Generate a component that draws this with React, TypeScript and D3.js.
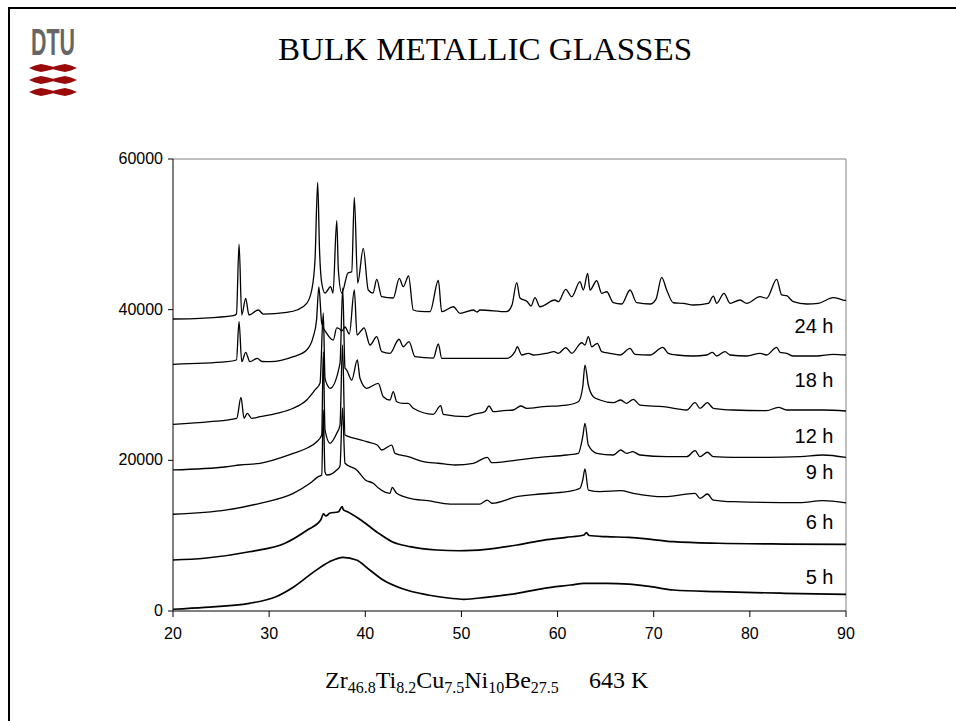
import React from "react";
import * as d3 from "d3";

// ---- Data (2θ in degrees, intensity in counts) ----
const curve1: [number, number][] = [
  [20.0, 38760], [22.8, 38850], [26.27, 39200], [26.6, 39420], [26.87, 48700], [27.15, 39290],
  [27.56, 41510], [27.9, 39290], [28.87, 39955], [29.39, 39420], [31.83, 39650], [32.87, 39955],
  [33.91, 40840], [34.43, 42610], [34.77, 46590], [35.05, 56900], [35.24, 47920], [35.47, 43540],
  [35.81, 42210], [36.4, 43050], [36.64, 42210], [37.03, 51810], [37.2, 45260], [37.55, 42210],
  [38.2, 44870], [38.59, 45040], [38.86, 54900], [39.21, 43540], [39.79, 48140], [40.31, 42610],
  [40.8, 42210], [41.19, 44030], [41.71, 41720], [42.91, 41550], [43.54, 44160], [43.95, 43050],
  [44.5, 44470], [44.99, 39955], [45.69, 39760], [46.73, 39730], [47.6, 43870], [47.95, 39730],
  [49.16, 40390], [49.85, 39520], [51.24, 39955], [51.62, 39690], [51.93, 39955], [54.71, 39730],
  [55.26, 40620], [55.75, 43580], [56.09, 41550], [56.85, 41060], [57.24, 40490], [57.65, 41590],
  [58.17, 40390], [59.73, 41280], [60.08, 41060], [60.85, 42700], [61.47, 41720], [62.33, 43710],
  [62.68, 42610], [63.13, 44830], [63.37, 42610], [64.07, 43840], [64.59, 42170], [65.11, 42380],
  [65.8, 40920], [66.67, 40750], [67.54, 42610], [68.23, 40920], [69.62, 40750], [70.24, 41410],
  [70.83, 44290], [71.35, 42610], [72.04, 40920], [73.08, 40840], [74.12, 40620], [75.68, 40840],
  [76.2, 41810], [76.55, 40840], [77.31, 42170], [77.94, 40840], [78.98, 41280], [79.67, 40840],
  [81.06, 41720], [81.75, 41510], [82.79, 44030], [83.31, 41950], [83.83, 41850], [84.52, 41060],
  [85.92, 40750], [87.12, 40840], [88.68, 41590], [89.72, 41280], [90.0, 41220],
];

const curve2: [number, number][] = [
  [20.0, 32750], [25.59, 33090], [26.6, 33320], [26.87, 38400], [27.15, 33090], [27.56, 34340],
  [28.0, 33090], [28.77, 33540], [29.26, 33120], [30.09, 33090], [32.51, 33760], [33.91, 34650],
  [34.59, 36410], [34.93, 38630], [35.17, 43010], [35.47, 38190], [35.99, 36860], [36.67, 35970],
  [37.03, 37570], [37.3, 37470], [37.55, 37170], [37.89, 37700], [38.34, 36770], [38.86, 42610],
  [39.14, 36640], [39.63, 37300], [39.87, 37570], [40.49, 35310], [41.19, 36410], [41.71, 34420],
  [42.57, 34210], [43.51, 36070], [43.95, 35080], [44.55, 35750], [45.17, 33760], [47.08, 33580],
  [47.6, 35440], [47.95, 33540], [51.24, 33540], [54.71, 33540], [55.57, 34420], [55.81, 35080],
  [56.27, 33980], [56.96, 34210], [57.48, 33980], [58.87, 34210], [59.63, 34420], [60.08, 34210],
  [60.85, 34950], [61.47, 34210], [62.51, 35610], [62.85, 35310], [63.2, 36410], [63.55, 35080],
  [64.13, 35530], [64.59, 34420], [65.45, 34210], [66.49, 33980], [67.54, 34870], [68.05, 34070],
  [69.62, 33980], [70.94, 35000], [71.52, 34210], [72.39, 33980], [74.12, 33850], [75.51, 33980],
  [76.1, 34340], [76.55, 33850], [77.42, 34420], [77.94, 33980], [79.67, 33850], [81.06, 34210],
  [81.75, 33980], [82.79, 35000], [83.14, 34340], [83.83, 34210], [84.52, 33850], [86.95, 33850],
  [88.68, 34070], [90.0, 33980],
];

const curve3: [number, number][] = [
  [20.0, 24780], [23.85, 25130], [26.63, 25580], [27.07, 28370], [27.39, 25580], [27.73, 26240],
  [28.19, 25580], [29.05, 25790], [30.79, 26240], [32.51, 26910], [33.91, 28010], [34.77, 29340],
  [35.29, 30220], [35.63, 39560], [35.81, 30930], [36.05, 30000], [36.33, 29560], [37.37, 32880],
  [37.65, 42880], [37.89, 32260], [38.07, 31990], [38.59, 30660], [39.17, 33320], [39.45, 30890],
  [40.15, 29560], [41.35, 30220], [41.87, 28450], [42.57, 28010], [42.91, 29110], [43.27, 27780],
  [43.95, 27570], [44.47, 27570], [44.99, 26910], [47.07, 26110], [47.84, 27250], [48.12, 26110],
  [50.55, 25790], [51.24, 26110], [52.45, 26460], [52.87, 27210], [53.32, 26460], [54.36, 26590],
  [55.4, 26680], [56.17, 27210], [56.79, 26910], [58.52, 27120], [60.95, 27340], [62.16, 27780],
  [62.62, 29770], [62.85, 32650], [63.2, 30000], [63.72, 28450], [64.41, 28010], [65.8, 27650],
  [66.57, 28010], [67.19, 27570], [67.88, 28100], [68.57, 27340], [71.0, 27120], [73.43, 26680],
  [74.3, 27650], [74.82, 26910], [75.58, 27650], [76.2, 26910], [78.28, 26680], [81.75, 26590],
  [82.96, 27040], [83.83, 26680], [87.64, 26680], [90.0, 26550],
];

const curve4: [number, number][] = [
  [20.0, 18720], [25.59, 19150], [26.97, 19380], [29.05, 19610], [32.51, 20930], [33.91, 21600],
  [34.95, 22470], [35.47, 23360], [35.63, 34380], [35.81, 24030], [36.33, 22260], [37.03, 23590],
  [37.37, 24690], [37.63, 35310], [37.89, 23360], [38.93, 22920], [40.15, 22470], [41.25, 22030],
  [41.71, 21370], [42.75, 22030], [43.09, 20930], [44.47, 20480], [46.03, 19820], [47.6, 19610],
  [49.33, 19380], [51.24, 19610], [52.69, 20400], [53.15, 19690], [55.75, 20040], [58.17, 20400],
  [60.95, 20710], [62.16, 20930], [62.62, 23140], [62.85, 24910], [63.2, 22030], [64.07, 20930],
  [65.8, 20710], [66.57, 21370], [67.19, 20930], [67.82, 21150], [68.57, 20710], [71.35, 20480],
  [73.43, 20480], [74.3, 21280], [74.82, 20480], [75.58, 21070], [76.2, 20480], [78.28, 20400],
  [81.75, 20400], [85.22, 20480], [87.58, 20710], [90.0, 20380],
];

const curve5: [number, number][] = [
  [20.0, 12840], [25.59, 13410], [29.05, 14300], [32.51, 15620], [34.25, 16950], [35.11, 17830],
  [35.47, 18050], [35.63, 26680], [35.81, 18450], [35.99, 18050], [37.03, 18720], [37.37, 19250],
  [37.63, 26950], [37.89, 19610], [39.11, 18720], [40.01, 17390], [40.83, 16950], [41.4, 16290],
  [42.57, 15620], [42.79, 16420], [43.26, 15620], [44.65, 14960], [46.51, 14640], [48.83, 14200],
  [51.15, 14200], [51.93, 14200], [52.69, 14730], [53.15, 14300], [55.75, 15170], [58.17, 15530],
  [60.95, 15840], [62.33, 16290], [62.62, 17390], [62.85, 18850], [63.2, 16060], [64.41, 15840],
  [66.57, 15970], [67.88, 15620], [71.0, 15170], [74.3, 15620], [74.82, 14960], [75.58, 15530],
  [76.2, 14730], [78.28, 14510], [85.22, 14380], [87.58, 14640], [90.0, 14340],
];

const curve6: [number, number][] = [
  [20.0, 6770], [23.29, 7000], [27.94, 7870], [31.65, 8990], [33.97, 10750], [35.36, 12080],
  [35.65, 12880], [35.91, 12610], [36.29, 12970], [37.22, 13180], [37.59, 13850], [37.73, 13410],
  [38.15, 13180], [39.54, 12080], [41.4, 10310], [42.79, 9200], [44.65, 8540], [47.44, 8100],
  [49.76, 8000], [52.55, 8190], [55.79, 8760], [58.59, 9420], [60.9, 9780], [62.76, 10090],
  [62.99, 10420], [63.27, 10020], [65.08, 9860], [67.4, 9780], [69.72, 9520], [72.05, 9200],
  [76.69, 8990], [83.66, 8890], [90.0, 8850],
];

const curve7: [number, number][] = [
  [20.0, 230], [23.29, 490], [27.94, 1020], [30.71, 1900], [32.59, 3230], [34.44, 5000],
  [36.29, 6540], [37.68, 7130], [39.08, 6770], [40.47, 5440], [41.86, 4110], [43.72, 3010],
  [46.51, 2120], [48.83, 1690], [50.23, 1550], [52.55, 1820], [55.79, 2350], [58.59, 3010],
  [61.37, 3450], [62.76, 3680], [65.08, 3680], [67.4, 3580], [69.72, 3230], [72.05, 2790],
  [76.69, 2560], [83.66, 2350], [90.0, 2220],
];

const allCurves = [curve1, curve2, curve3, curve4, curve5, curve6, curve7];

const seriesLabels = ["24 h", "18 h", "12 h", "9 h", "6 h", "5 h"];
const xTicks = [20, 30, 40, 50, 60, 70, 80, 90];
const yTicks = [0, 20000, 40000, 60000];

// label anchors (intensity at label baseline, in counts)
const labelAnchor = [36900, 29730, 22300, 17520, 10880, 3580];

const W = 956;
const H = 721;
const M = { left: 173, right: 846, top: 159, bottom: 611 };

export default function App() {
  const x = d3.scaleLinear().domain([20, 90]).range([M.left, M.right]);
  const y = d3.scaleLinear().domain([0, 60000]).range([M.bottom, M.top]);
  const line = d3
    .line<[number, number]>()
    .x((d) => x(d[0]))
    .y((d) => y(d[1]))
    .curve(d3.curveMonotoneX);

  const band = (cy: number) =>
    `M29,${cy} L35,${cy - 2.6} L41,${cy - 4} L47,${cy - 2.8} L53,${cy - 1.3} L59,${cy - 2.8} L65,${cy - 4} L71,${cy - 2.6} L77,${cy}` +
    ` L71,${cy + 2.6} L65,${cy + 4} L59,${cy + 2.8} L53,${cy + 1.3} L47,${cy + 2.8} L41,${cy + 4} L35,${cy + 2.6} Z`;

  const sans = "'Liberation Sans', Arial, Helvetica, sans-serif";
  const serif = "'Liberation Serif', 'Times New Roman', serif";

  return (
    <svg
      width={W}
      height={H}
      style={{ position: "absolute", left: 0, top: 0, background: "#fff" }}
    >
      {/* slide frame */}
      <line x1={9} y1={8} x2={W} y2={8} stroke="#000" strokeWidth={2} />
      <line x1={9} y1={7} x2={9} y2={H} stroke="#000" strokeWidth={2} />

      {/* DTU logo */}
      <text
        x={31}
        y={55}
        fontFamily={sans}
        fontWeight="bold"
        fontSize={36}
        fill="#666"
        textLength={44}
        lengthAdjust="spacingAndGlyphs"
      >
        DTU
      </text>
      {[68, 80, 92].map((cy) => (
        <path key={cy} d={band(cy)} fill="#9a0a0a" />
      ))}

      {/* Title */}
      <text
        x={485}
        y={60}
        textAnchor="middle"
        fontFamily={serif}
        fontSize={32}
        fill="#000"
        textLength={414}
        lengthAdjust="spacingAndGlyphs"
      >
        BULK METALLIC GLASSES
      </text>

      {/* plot frame */}
      <line x1={M.left} y1={M.top} x2={M.right} y2={M.top} stroke="#808080" strokeWidth={1} />
      <line x1={M.right} y1={M.top} x2={M.right} y2={M.bottom} stroke="#808080" strokeWidth={1} />
      <line x1={M.left} y1={M.top} x2={M.left} y2={M.bottom} stroke="#000" strokeWidth={1} />
      <line x1={M.left} y1={M.bottom} x2={M.right} y2={M.bottom} stroke="#000" strokeWidth={1} />

      {/* y ticks */}
      {yTicks.map((t) => (
        <g key={t}>
          <line x1={M.left - 5} x2={M.left} y1={y(t)} y2={y(t)} stroke="#000" />
          <text
            x={M.left - 10}
            y={y(t) + 5}
            textAnchor="end"
            fontFamily={sans}
            fontSize={16}
          >
            {t}
          </text>
        </g>
      ))}

      {/* x ticks */}
      {xTicks.map((t) => (
        <g key={t}>
          <line x1={x(t)} x2={x(t)} y1={M.bottom} y2={M.bottom + 6} stroke="#000" />
          <text
            x={x(t)}
            y={M.bottom + 28}
            textAnchor="middle"
            fontFamily={sans}
            fontSize={16}
          >
            {t}
          </text>
        </g>
      ))}

      {/* curves */}
      {allCurves.map((c, i) => (
        <path
          key={i}
          d={line(c) || ""}
          fill="none"
          stroke="#000"
          strokeWidth={i >= 5 ? 1.7 : 1.3}
          strokeLinejoin="round"
        />
      ))}

      {/* series labels */}
      {seriesLabels.map((s, i) => (
        <text
          key={s}
          x={x(88.7)}
          y={y(labelAnchor[i])}
          textAnchor="end"
          fontFamily={sans}
          fontSize={20}
        >
          {s}
        </text>
      ))}

      {/* caption */}
      <text x={325} y={688} fontFamily={serif} fontSize={24} fill="#000">
        Zr<tspan fontSize={16} dy={5}>46.8</tspan>
        <tspan dy={-5}>Ti</tspan>
        <tspan fontSize={16} dy={5}>8.2</tspan>
        <tspan dy={-5}>Cu</tspan>
        <tspan fontSize={16} dy={5}>7.5</tspan>
        <tspan dy={-5}>Ni</tspan>
        <tspan fontSize={16} dy={5}>10</tspan>
        <tspan dy={-5}>Be</tspan>
        <tspan fontSize={16} dy={5}>27.5</tspan>
      </text>
      <text x={589} y={688} fontFamily={serif} fontSize={24} fill="#000">
        643 K
      </text>
    </svg>
  );
}
